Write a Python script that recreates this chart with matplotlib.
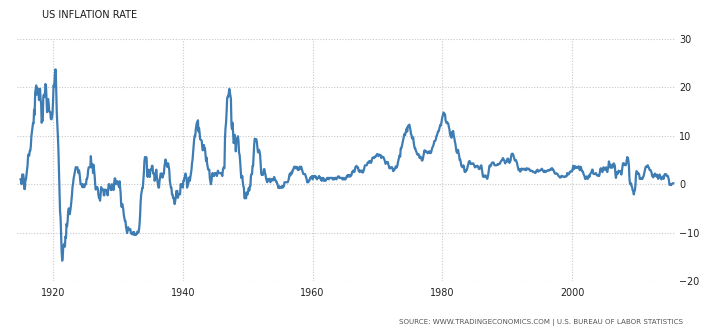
import numpy as np
import matplotlib.pyplot as plt

# US CPI inflation rate, year-over-year %, monthly from Jan 1915
start_year = 1915
monthly_rate = [
    1.0, 1.0, 0.0, 2.0, 2.0, 2.0, 1.0, -1.0, -1.0, 1.0, 1.0, 2.0,  # 1915
    3.0, 4.0, 6.1, 6.0, 5.9, 6.9, 6.9, 7.9, 9.9, 10.8, 11.7, 12.6,  # 1916
    12.5, 15.4, 14.3, 18.9, 19.6, 20.4, 18.5, 19.3, 19.8, 19.5, 17.4, 18.1,  # 1917
    19.7, 17.5, 16.7, 12.7, 13.3, 13.1, 18.0, 18.5, 18.0, 18.5, 20.7, 20.4,  # 1918
    17.9, 14.9, 17.1, 17.6, 16.6, 15.0, 15.0, 14.9, 13.5, 13.4, 13.7, 14.6,  # 1919
    16.9, 20.4, 20.1, 21.6, 23.7, 23.7, 19.5, 14.7, 12.4, 9.9, 7.0, 2.6,  # 1920
    -1.6, -5.6, -7.0, -10.8, -14.1, -15.8, -14.9, -12.8, -12.5, -12.3, -12.9, -10.8,  # 1921
    -11.1, -8.2, -8.7, -7.7, -5.6, -5.0, -5.1, -6.2, -5.4, -4.6, -3.4, -2.3,  # 1922
    -0.6, 0.0, 1.1, 1.7, 2.3, 2.9, 3.5, 3.5, 3.5, 3.5, 2.9, 2.3,  # 1923
    2.9, 2.3, 1.1, 0.0, 0.0, 0.0, -0.6, 0.0, -0.6, -0.6, -0.6, 0.0,  # 1924
    0.0, 0.0, 1.1, 1.1, 1.7, 2.9, 3.5, 3.5, 3.5, 3.5, 5.8, 4.0,  # 1925
    3.5, 4.1, 2.3, 4.0, 2.8, 1.7, 0.0, -1.1, -0.6, -0.6, -0.6, -1.1,  # 1926
    -2.2, -2.8, -2.8, -3.4, -2.2, -0.6, -1.2, -1.2, -1.1, -1.1, -2.3, -2.3,  # 1927
    -1.1, -1.2, -1.2, -1.2, -1.2, -2.3, -1.2, 0.0, 0.0, -0.6, -0.6, -1.2,  # 1928
    -1.2, 0.0, -0.6, -0.6, -1.2, 0.0, 1.2, 1.2, 0.0, 0.6, 0.6, 0.6,  # 1929
    0.0, 0.0, -0.6, 0.6, -0.6, -1.8, -4.1, -4.7, -4.1, -4.6, -5.3, -6.4,  # 1930
    -7.0, -7.6, -7.6, -8.8, -9.5, -10.1, -9.0, -8.9, -9.5, -9.3, -9.4, -9.3,  # 1931
    -10.1, -10.2, -10.3, -10.0, -10.4, -9.9, -9.9, -10.5, -10.4, -10.5, -10.3, -10.3,  # 1932
    -9.8, -9.9, -10.0, -9.4, -8.3, -6.6, -3.7, -2.2, -1.5, -0.8, -0.8, 0.8,  # 1933
    2.3, 4.7, 5.6, 5.6, 5.6, 5.5, 2.3, 1.5, 3.0, 2.3, 2.3, 1.5,  # 1934
    3.0, 3.0, 3.0, 3.8, 3.8, 2.2, 2.2, 2.2, 0.7, 1.5, 2.2, 3.0,  # 1935
    1.5, 0.7, 0.0, -0.7, -0.7, 0.7, 1.5, 2.2, 2.2, 2.2, 1.4, 1.4,  # 1936
    2.2, 2.2, 3.6, 4.4, 5.1, 4.3, 4.3, 3.6, 4.3, 4.3, 3.6, 2.9,  # 1937
    0.7, 0.0, -0.7, -0.7, -2.1, -2.1, -2.8, -2.8, -3.4, -4.1, -3.4, -2.8,  # 1938
    -1.4, -1.4, -1.4, -2.8, -2.1, -2.1, -2.1, -2.1, 0.0, 0.0, 0.0, 0.0,  # 1939
    -0.7, 0.7, 0.7, 1.4, 1.4, 2.2, 1.4, 1.4, -0.7, 0.0, 0.0, 0.7,  # 1940
    1.4, 0.7, 1.4, 2.1, 2.9, 4.3, 5.0, 6.4, 7.9, 9.3, 10.0, 9.9,  # 1941
    11.3, 12.1, 12.7, 12.6, 13.2, 10.9, 11.6, 10.7, 9.3, 9.2, 9.1, 9.0,  # 1942
    7.6, 7.0, 7.5, 8.1, 7.4, 7.4, 6.1, 4.8, 5.5, 4.2, 3.6, 3.0,  # 1943
    3.0, 3.0, 1.2, 0.6, 0.0, 0.6, 1.7, 2.3, 1.7, 1.7, 1.7, 2.3,  # 1944
    2.3, 2.3, 2.3, 1.7, 2.3, 2.8, 2.3, 2.3, 2.3, 2.3, 2.3, 2.2,  # 1945
    2.2, 1.7, 2.8, 3.4, 3.4, 3.3, 9.4, 11.6, 12.7, 14.9, 17.7, 18.1,  # 1946
    18.1, 18.8, 19.7, 19.0, 18.4, 17.6, 12.1, 11.4, 12.7, 10.6, 8.5, 8.8,  # 1947
    10.2, 9.3, 6.8, 8.7, 9.1, 9.5, 9.9, 8.9, 6.5, 6.1, 4.8, 3.0,  # 1948
    1.3, 1.3, 1.7, 0.4, -0.4, -0.8, -2.9, -2.9, -2.4, -2.9, -1.7, -2.1,  # 1949
    -2.1, -1.3, -0.8, -1.3, -0.4, -0.4, 1.7, 2.1, 2.1, 3.8, 3.8, 5.9,  # 1950
    8.1, 9.4, 9.3, 9.3, 9.3, 8.7, 7.5, 6.6, 6.6, 7.1, 6.7, 6.0,  # 1951
    4.3, 2.3, 1.9, 2.3, 1.9, 2.3, 3.1, 3.1, 2.3, 1.9, 1.2, 0.8,  # 1952
    0.4, 0.8, 1.1, 0.8, 1.1, 1.1, 0.4, 0.8, 0.8, 1.1, 0.8, 0.8,  # 1953
    1.1, 1.5, 1.1, 0.8, 0.8, 0.4, 0.4, 0.0, -0.4, -0.8, -0.4, -0.8,  # 1954
    -0.7, -0.7, -0.7, -0.4, -0.7, -0.7, -0.4, -0.4, 0.4, 0.4, 0.4, 0.4,  # 1955
    0.4, 0.4, 0.4, 0.7, 1.1, 1.8, 2.2, 1.8, 2.2, 2.5, 2.2, 2.9,  # 1956
    2.9, 3.3, 3.6, 3.6, 3.6, 3.3, 3.3, 3.6, 3.3, 2.9, 3.3, 3.0,  # 1957
    3.6, 3.2, 3.6, 3.6, 3.2, 2.8, 2.4, 2.1, 2.1, 2.1, 2.1, 1.8,  # 1958
    1.4, 1.1, 0.4, 0.4, 0.4, 0.7, 0.7, 1.1, 1.4, 1.4, 1.4, 1.7,  # 1959
    1.0, 1.7, 1.4, 1.7, 1.7, 1.7, 1.4, 1.4, 1.0, 1.3, 1.3, 1.3,  # 1960
    1.7, 1.4, 1.4, 1.0, 1.0, 0.7, 1.3, 1.0, 1.3, 0.7, 0.7, 0.7,  # 1961
    0.7, 1.0, 1.0, 1.3, 1.3, 1.3, 1.0, 1.3, 1.3, 1.3, 1.3, 1.3,  # 1962
    1.3, 1.0, 1.3, 1.0, 1.0, 1.3, 1.3, 1.3, 1.0, 1.3, 1.3, 1.6,  # 1963
    1.6, 1.6, 1.3, 1.3, 1.3, 1.3, 1.3, 1.0, 1.3, 1.0, 1.3, 1.0,  # 1964
    1.0, 1.0, 1.3, 1.6, 1.6, 1.9, 1.6, 1.9, 1.6, 1.9, 1.6, 1.9,  # 1965
    1.9, 2.5, 2.5, 2.8, 2.8, 2.5, 2.8, 3.5, 3.5, 3.8, 3.5, 3.5,  # 1966
    3.5, 2.8, 2.8, 2.5, 2.8, 2.8, 2.8, 2.5, 2.8, 2.4, 2.7, 3.0,  # 1967
    3.6, 3.9, 3.9, 3.9, 3.9, 4.2, 4.5, 4.5, 4.4, 4.8, 4.7, 4.7,  # 1968
    4.4, 4.7, 5.2, 5.5, 5.5, 5.5, 5.4, 5.7, 5.7, 5.7, 5.9, 6.2,  # 1969
    6.2, 6.1, 5.8, 6.1, 6.1, 6.0, 6.0, 5.4, 5.7, 5.7, 5.6, 5.6,  # 1970
    5.3, 5.0, 4.7, 4.2, 4.4, 4.6, 4.4, 4.6, 4.1, 3.8, 3.3, 3.3,  # 1971
    3.3, 3.5, 3.5, 3.5, 3.2, 2.7, 2.9, 2.9, 3.2, 3.4, 3.7, 3.4,  # 1972
    3.6, 3.9, 4.6, 5.1, 5.5, 6.0, 5.7, 7.4, 7.4, 7.8, 8.3, 8.7,  # 1973
    9.4, 10.0, 10.4, 10.1, 10.7, 10.9, 11.5, 10.9, 11.9, 12.1, 12.2, 12.3,  # 1974
    11.8, 11.2, 10.3, 10.2, 9.5, 9.4, 9.7, 8.6, 7.9, 7.4, 7.4, 6.9,  # 1975
    6.7, 6.3, 6.1, 6.1, 6.2, 5.9, 5.4, 5.7, 5.5, 5.5, 4.9, 4.9,  # 1976
    5.2, 5.9, 6.4, 7.0, 6.7, 6.9, 6.8, 6.6, 6.6, 6.4, 6.7, 6.7,  # 1977
    6.8, 6.4, 6.6, 6.5, 7.0, 7.4, 7.7, 7.9, 8.3, 8.9, 8.9, 9.0,  # 1978
    9.3, 9.9, 10.1, 10.5, 10.9, 10.9, 11.3, 11.8, 12.2, 12.1, 12.6, 13.3,  # 1979
    13.9, 14.2, 14.8, 14.7, 14.4, 14.4, 13.1, 12.9, 12.6, 12.8, 12.6, 12.5,  # 1980
    11.8, 11.4, 10.5, 10.0, 9.8, 9.6, 10.8, 10.8, 11.0, 10.1, 9.6, 8.9,  # 1981
    8.4, 7.6, 6.8, 6.5, 6.7, 7.1, 6.4, 5.9, 5.0, 5.1, 4.6, 3.8,  # 1982
    3.7, 3.5, 3.6, 3.9, 3.5, 2.6, 2.5, 2.6, 2.9, 2.9, 3.3, 3.8,  # 1983
    4.2, 4.6, 4.8, 4.6, 4.2, 4.2, 4.2, 4.3, 4.3, 4.3, 4.1, 3.9,  # 1984
    3.5, 3.5, 3.7, 3.7, 3.8, 3.8, 3.6, 3.3, 3.1, 3.2, 3.5, 3.8,  # 1985
    3.9, 3.1, 2.2, 1.6, 1.5, 1.8, 1.6, 1.6, 1.8, 1.5, 1.3, 1.1,  # 1986
    1.5, 2.1, 3.0, 3.8, 3.9, 3.7, 3.9, 4.3, 4.4, 4.5, 4.5, 4.4,  # 1987
    4.0, 3.9, 3.9, 3.9, 3.9, 4.0, 4.1, 4.0, 4.2, 4.2, 4.2, 4.4,  # 1988
    4.7, 4.8, 5.0, 5.1, 5.4, 5.2, 5.0, 4.7, 4.3, 4.5, 4.7, 4.6,  # 1989
    5.2, 5.3, 5.2, 4.7, 4.4, 4.7, 4.8, 5.6, 6.2, 6.3, 6.3, 6.1,  # 1990
    5.7, 5.3, 4.9, 4.9, 5.0, 4.7, 4.4, 3.8, 3.4, 2.9, 3.0, 3.1,  # 1991
    2.6, 2.8, 3.2, 3.2, 3.0, 3.1, 3.2, 3.1, 3.0, 3.2, 3.0, 2.9,  # 1992
    3.3, 3.2, 3.1, 3.2, 3.2, 3.0, 2.8, 2.8, 2.7, 2.8, 2.7, 2.7,  # 1993
    2.5, 2.5, 2.5, 2.4, 2.3, 2.5, 2.8, 2.9, 3.0, 2.6, 2.7, 2.7,  # 1994
    2.8, 2.9, 2.9, 3.1, 3.2, 3.0, 2.8, 2.6, 2.5, 2.8, 2.6, 2.5,  # 1995
    2.7, 2.7, 2.8, 2.9, 2.9, 2.8, 3.0, 2.9, 3.0, 3.0, 3.3, 3.3,  # 1996
    3.0, 3.0, 2.8, 2.5, 2.2, 2.3, 2.2, 2.2, 2.2, 2.1, 1.8, 1.7,  # 1997
    1.6, 1.4, 1.4, 1.4, 1.7, 1.7, 1.7, 1.6, 1.5, 1.5, 1.5, 1.6,  # 1998
    1.7, 1.6, 1.7, 2.3, 2.1, 2.0, 2.1, 2.3, 2.6, 2.6, 2.6, 2.7,  # 1999
    2.7, 3.2, 3.8, 3.1, 3.2, 3.7, 3.7, 3.4, 3.5, 3.4, 3.4, 3.4,  # 2000
    3.7, 3.5, 2.9, 3.3, 3.6, 3.2, 2.7, 2.7, 2.6, 2.1, 1.9, 1.6,  # 2001
    1.1, 1.1, 1.5, 1.6, 1.2, 1.1, 1.5, 1.8, 1.5, 2.0, 2.2, 2.4,  # 2002
    2.6, 3.0, 3.0, 2.2, 2.1, 2.1, 2.1, 2.2, 2.3, 2.0, 1.8, 1.9,  # 2003
    1.9, 1.7, 1.7, 2.3, 3.1, 3.3, 3.0, 2.7, 2.5, 3.2, 3.5, 3.3,  # 2004
    3.0, 3.0, 3.1, 3.5, 2.8, 2.5, 3.2, 3.6, 4.7, 4.3, 3.5, 3.4,  # 2005
    4.0, 3.6, 3.4, 3.5, 4.2, 4.3, 4.1, 3.8, 2.1, 1.3, 2.0, 2.5,  # 2006
    2.1, 2.4, 2.8, 2.6, 2.7, 2.7, 2.4, 2.0, 2.8, 3.5, 4.3, 4.1,  # 2007
    4.3, 4.0, 4.0, 3.9, 4.2, 5.0, 5.6, 5.4, 4.9, 3.7, 1.1, 0.1,  # 2008
    0.0, 0.2, -0.4, -0.7, -1.3, -1.4, -2.1, -1.5, -1.3, -0.2, 1.8, 2.7,  # 2009
    2.6, 2.1, 2.3, 2.2, 2.0, 1.1, 1.2, 1.1, 1.1, 1.2, 1.1, 1.5,  # 2010
    1.6, 2.1, 2.7, 3.2, 3.6, 3.6, 3.6, 3.8, 3.9, 3.5, 3.4, 3.0,  # 2011
    2.9, 2.9, 2.7, 2.3, 1.7, 1.7, 1.4, 1.7, 2.0, 2.2, 1.8, 1.7,  # 2012
    1.6, 2.0, 1.5, 1.1, 1.4, 1.8, 2.0, 1.5, 1.2, 1.0, 1.2, 1.5,  # 2013
    1.6, 1.1, 1.5, 2.0, 2.1, 2.1, 2.0, 1.7, 1.7, 1.7, 1.3, 0.8,  # 2014
    -0.1, 0.0, -0.1, -0.2, 0.0, 0.1, 0.2, 0.2,  # 2015
]

year_ticks = [1920, 1940, 1960, 1980, 2000]
value_ticks = [-20, -10, 0, 10, 20, 30]

title = 'US INFLATION RATE'
source = 'SOURCE: WWW.TRADINGECONOMICS.COM | U.S. BUREAU OF LABOR STATISTICS'

dates = start_year + np.arange(len(monthly_rate)) / 12.0

fig = plt.figure(figsize=(7.17, 3.34), dpi=100)
W, H = 717, 334
ax = fig.add_axes([17 / W, (H - 281) / H, (675 - 17) / W, (281 - 39) / H])

ax.plot(dates, monthly_rate, color='#3e7cb4', linewidth=1.6, solid_joinstyle='round')

ax.set_xlim(1914.45, 2015.85)
ax.set_ylim(-20, 30)
ax.set_xticks(year_ticks)
ax.set_yticks(value_ticks)
ax.grid(True, color='#c8c8c8', linestyle=(0, (1, 1.5)), linewidth=0.8)
ax.set_axisbelow(True)
for s in ax.spines.values():
    s.set_visible(False)

ax.yaxis.tick_right()
ax.tick_params(axis='both', length=0, labelsize=6.9, colors='#222222')
ax.tick_params(axis='y', pad=3)
ax.tick_params(axis='x', pad=5)

fig.text(42 / W, 1 - 15 / H, title, fontsize=7.0, color='#1a1a1a',
         va='center', ha='left')
fig.text(683 / W, 1 - 322 / H, source, fontsize=5.1, color='#555555',
         va='center', ha='right')

fig.savefig('out.png', dpi=100)
